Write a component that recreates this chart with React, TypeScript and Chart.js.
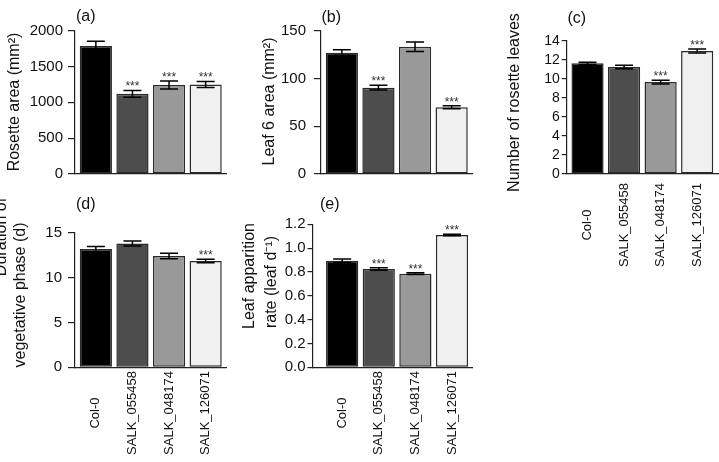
import React, { useEffect, useRef } from 'react';
import { Chart, registerables } from 'chart.js';

Chart.register(...registerables);

const FONT = '"Liberation Sans", Arial, Helvetica, sans-serif';
const W = 719;
const H = 462;

const categories = ['Col-0', 'SALK_055458', 'SALK_048174', 'SALK_126071'];
const barColors = ['#000000', '#4d4d4d', '#999999', '#f0f0f0'];

// (a) Rosette area (mm²)
const rosetteArea = [1786, 1119, 1242, 1249];
const rosetteAreaErr = [68, 48, 57, 42];
const rosetteAreaSig = ['', '***', '***', '***'];
const rosetteAreaTicks = [0, 500, 1000, 1500, 2000];

// (b) Leaf 6 area (mm²)
const leaf6Area = [127.3, 90.5, 133.5, 70];
const leaf6AreaErr = [3, 2.5, 5, 1.5];
const leaf6AreaSig = ['', '***', '', '***'];
const leaf6AreaTicks = [0, 50, 100, 150];

// (c) Number of rosette leaves
const rosetteLeaves = [11.65, 11.26, 9.68, 12.95];
const rosetteLeavesErr = [0.12, 0.18, 0.2, 0.2];
const rosetteLeavesSig = ['', '', '***', '***'];
const rosetteLeavesTicks = [0, 2, 4, 6, 8, 10, 12, 14];

// (d) Duration of vegetative phase (d)
const vegPhase = [13.17, 13.8, 12.4, 11.84];
const vegPhaseErr = [0.3, 0.27, 0.3, 0.2];
const vegPhaseSig = ['', '', '', '***'];
const vegPhaseTicks = [0, 5, 10, 15];

// (e) Leaf apparition rate (leaf d-1)
const appRate = [0.894, 0.825, 0.786, 1.11];
const appRateErr = [0.015, 0.01, 0.008, 0.006];
const appRateSig = ['', '***', '***', '***'];
const appRateTicks = [0, 0.2, 0.4, 0.6, 0.8, 1.0, 1.2];

type Panel = {
  label: string;
  labelX: number;
  labelY: number;
  values: number[];
  errs: number[];
  sig: string[];
  yTicks: number[];
  decimals: number;
  area: { left: number; top: number; right: number; bottom: number };
  xMin: number;
  xMax: number;
  tickLen: number;
  tickPad: number;
  tickFont: number;
  titles: { text: string; x: number; y: number }[];
  titleFont: number;
  catLabelY: number | null;
};

const panels: Panel[] = [
  {
    label: '(a)', labelX: 76, labelY: 17,
    values: rosetteArea, errs: rosetteAreaErr, sig: rosetteAreaSig, yTicks: rosetteAreaTicks, decimals: 0,
    area: { left: 75, top: 30.7, right: 226.5, bottom: 174 }, xMin: 0.43, xMax: 4.57,
    tickLen: 7, tickPad: 5, tickFont: 15,
    titles: [{ text: 'Rosette area (mm²)', x: 15, y: 102 }], titleFont: 16,
    catLabelY: null,
  },
  {
    label: '(b)', labelX: 321.5, labelY: 18,
    values: leaf6Area, errs: leaf6AreaErr, sig: leaf6AreaSig, yTicks: leaf6AreaTicks, decimals: 0,
    area: { left: 321, top: 31, right: 472.5, bottom: 174 }, xMin: 0.43, xMax: 4.57,
    tickLen: 7, tickPad: 8, tickFont: 15,
    titles: [{ text: 'Leaf 6 area (mm²)', x: 269.5, y: 101.5 }], titleFont: 16,
    catLabelY: null,
  },
  {
    label: '(c)', labelX: 567.5, labelY: 19,
    values: rosetteLeaves, errs: rosetteLeavesErr, sig: rosetteLeavesSig, yTicks: rosetteLeavesTicks, decimals: 0,
    area: { left: 566.7, top: 41, right: 718, bottom: 174 }, xMin: 0.43, xMax: 4.57,
    tickLen: 5, tickPad: 2, tickFont: 14,
    titles: [{ text: 'Number of rosette leaves', x: 515, y: 102.5 }], titleFont: 16,
    catLabelY: 225,
  },
  {
    label: '(d)', labelX: 76, labelY: 205,
    values: vegPhase, errs: vegPhaseErr, sig: vegPhaseSig, yTicks: vegPhaseTicks, decimals: 0,
    area: { left: 75, top: 232.7, right: 226.5, bottom: 367.3 }, xMin: 0.43, xMax: 4.57,
    tickLen: 7, tickPad: 6, tickFont: 15,
    titles: [
      { text: 'Duration of', x: 2, y: 237 },
      { text: 'vegetative phase (d)', x: 21, y: 295 },
    ], titleFont: 16,
    catLabelY: 413,
  },
  {
    label: '(e)', labelX: 320, labelY: 205,
    values: appRate, errs: appRateErr, sig: appRateSig, yTicks: appRateTicks, decimals: 1,
    area: { left: 312.5, top: 224.3, right: 472.5, bottom: 367.3 }, xMin: 0.19, xMax: 4.56,
    tickLen: 5, tickPad: 2, tickFont: 15,
    titles: [
      { text: 'Leaf apparition', x: 250, y: 276 },
      { text: 'rate (leaf d⁻¹)', x: 272, y: 282 },
    ], titleFont: 16,
    catLabelY: 413,
  },
];

function decorPlugin(p: Panel) {
  return {
    id: 'decor',
    afterDraw(chart: any) {
      const ctx = chart.ctx as CanvasRenderingContext2D;
      const xs = chart.scales.x;
      const ys = chart.scales.y;
      ctx.save();
      // error bars + significance
      p.values.forEach((v, i) => {
        const px = xs.getPixelForValue(i + 1);
        const t = ys.getPixelForValue(v + p.errs[i]);
        const b = ys.getPixelForValue(v - p.errs[i]);
        ctx.strokeStyle = '#000';
        ctx.lineWidth = 1.5;
        ctx.beginPath();
        ctx.moveTo(px, t);
        ctx.lineTo(px, b);
        ctx.moveTo(px - 9, t);
        ctx.lineTo(px + 9, t);
        ctx.moveTo(px - 9, b);
        ctx.lineTo(px + 9, b);
        ctx.stroke();
        if (p.sig[i]) {
          ctx.font = `12px ${FONT}`;
          ctx.fillStyle = '#333';
          ctx.textAlign = 'center';
          ctx.textBaseline = 'alphabetic';
          ctx.fillText(p.sig[i], px, t);
        }
      });
      // panel label
      ctx.fillStyle = '#111';
      ctx.font = `16px ${FONT}`;
      ctx.textAlign = 'left';
      ctx.textBaseline = 'middle';
      ctx.fillText(p.label, p.labelX, p.labelY);
      // y titles
      p.titles.forEach((tt) => {
        ctx.save();
        ctx.translate(tt.x, tt.y);
        ctx.rotate(-Math.PI / 2);
        ctx.font = `${p.titleFont}px ${FONT}`;
        ctx.textAlign = 'center';
        ctx.textBaseline = 'middle';
        ctx.fillText(tt.text, 0, 0);
        ctx.restore();
      });
      // category labels
      if (p.catLabelY !== null) {
        categories.forEach((c, i) => {
          const px = xs.getPixelForValue(i + 1);
          ctx.save();
          ctx.translate(px, p.catLabelY as number);
          ctx.rotate(-Math.PI / 2);
          ctx.font = `13px ${FONT}`;
          ctx.textAlign = 'center';
          ctx.textBaseline = 'middle';
          ctx.fillText(c, 0, 0);
          ctx.restore();
        });
      }
      ctx.restore();
    },
  };
}

function PanelChart({ p }: { p: Panel }) {
  const ref = useRef<HTMLCanvasElement>(null);
  useEffect(() => {
    if (!ref.current) return;
    const chart = new Chart(ref.current, {
      type: 'bar',
      data: {
        datasets: [
          {
            data: p.values.map((v, i) => ({ x: i + 1, y: v })) as any,
            backgroundColor: barColors,
            borderColor: '#2a2a2a',
            borderWidth: 1.5,
            borderSkipped: false,
            categoryPercentage: 1,
            barPercentage: 0.88,
          },
        ],
      },
      options: {
        animation: false,
        responsive: false,
        devicePixelRatio: 1,
        layout: {
          padding: {
            left: 0,
            top: p.area.top,
            right: W - p.area.right,
            bottom: H - p.area.bottom,
          },
        },
        plugins: {
          legend: { display: false },
          tooltip: { enabled: false },
          title: { display: false },
        },
        scales: {
          x: {
            type: 'linear',
            min: p.xMin,
            max: p.xMax,
            offset: false,
            grid: { display: false },
            ticks: { display: false },
            border: { display: true, color: '#222', width: 1.2 },
            afterBuildTicks: (s: any) => {
              s.ticks = categories.map((_, i) => ({ value: i + 1 }));
            },
            afterFit: (s: any) => {
              s.height = 0;
            },
          },
          y: {
            type: 'linear',
            min: p.yTicks[0],
            max: p.yTicks[p.yTicks.length - 1],
            afterBuildTicks: (s: any) => {
              s.ticks = p.yTicks.map((v) => ({ value: v }));
            },
            afterFit: (s: any) => {
              s.width = p.area.left;
            },
            grid: {
              display: true,
              drawOnChartArea: false,
              drawTicks: true,
              tickLength: p.tickLen,
              color: '#222',
              lineWidth: 1.2,
            },
            border: { display: true, color: '#222', width: 1.2 },
            ticks: {
              autoSkip: false,
              padding: p.tickPad,
              color: '#111',
              font: { family: FONT, size: p.tickFont },
              callback: (v: any) => Number(v).toFixed(p.decimals),
            },
          },
        },
      } as any,
      plugins: [decorPlugin(p)],
    });
    return () => chart.destroy();
  }, [p]);
  return (
    <canvas
      ref={ref}
      width={W}
      height={H}
      style={{ position: 'absolute', left: 0, top: 0, width: W, height: H }}
    />
  );
}

export default function App() {
  return (
    <div style={{ position: 'absolute', left: 0, top: 0, width: W, height: H, background: '#fff', overflow: 'hidden' }}>
      {panels.map((p) => (
        <PanelChart key={p.label} p={p} />
      ))}
    </div>
  );
}
